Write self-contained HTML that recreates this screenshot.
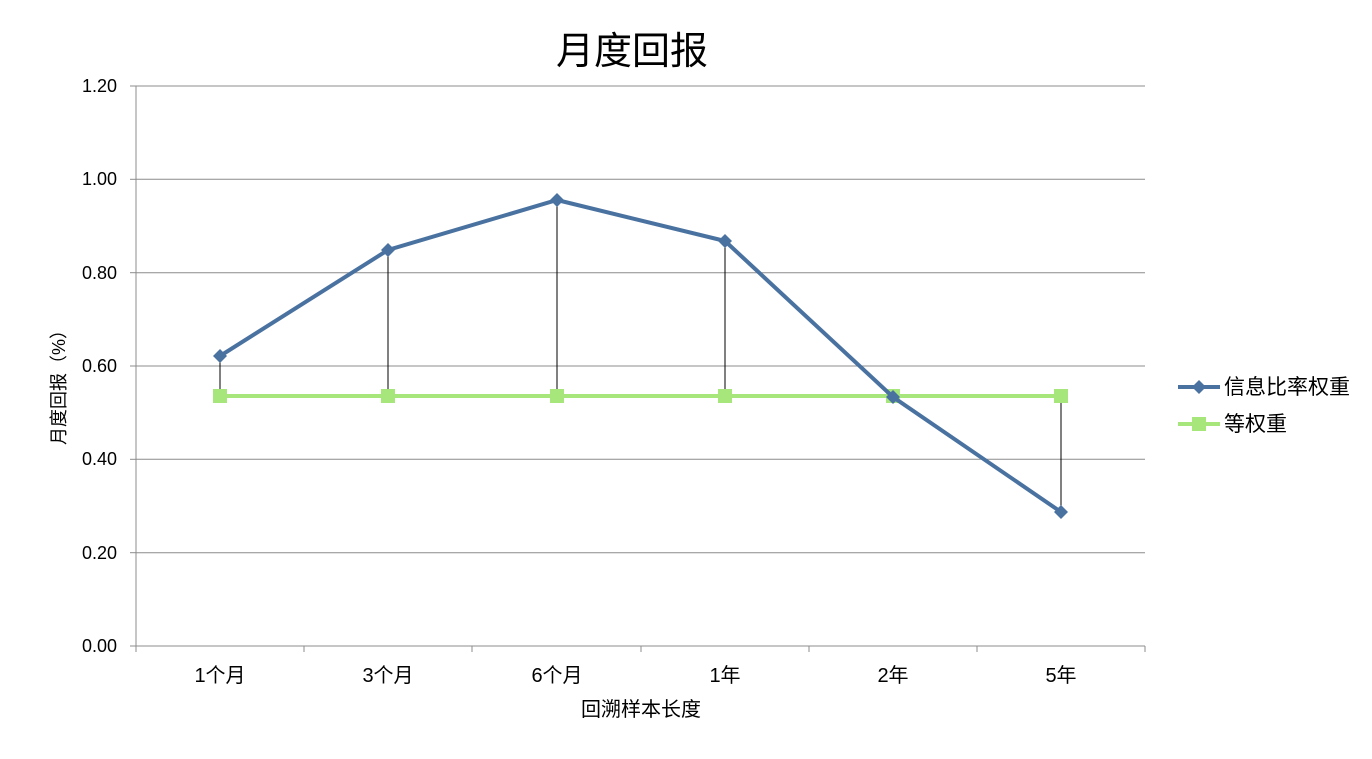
<!DOCTYPE html>
<html><head><meta charset="utf-8"><style>
body{margin:0;background:#fff;}
svg text{font-family:"Liberation Sans","Noto Sans CJK SC",sans-serif;fill:#000;}
</style></head><body>
<svg width="1372" height="754" viewBox="0 0 1372 754" xmlns="http://www.w3.org/2000/svg">
<rect width="1372" height="754" fill="#fff"/>
<text x="632" y="64" font-size="38" text-anchor="middle">月度回报</text>
<g stroke="#8c8c8c" stroke-width="1">
<line x1="136" y1="86" x2="1145" y2="86"/>
<line x1="136" y1="179.3" x2="1145" y2="179.3"/>
<line x1="136" y1="272.7" x2="1145" y2="272.7"/>
<line x1="136" y1="366" x2="1145" y2="366"/>
<line x1="136" y1="459.3" x2="1145" y2="459.3"/>
<line x1="136" y1="552.7" x2="1145" y2="552.7"/>
<line x1="136" y1="646" x2="1145" y2="646"/>
<line x1="136" y1="86" x2="136" y2="646"/>
<line x1="130" y1="86" x2="136" y2="86"/><line x1="130" y1="179.3" x2="136" y2="179.3"/>
<line x1="130" y1="272.7" x2="136" y2="272.7"/><line x1="130" y1="366" x2="136" y2="366"/>
<line x1="130" y1="459.3" x2="136" y2="459.3"/><line x1="130" y1="552.7" x2="136" y2="552.7"/>
<line x1="130" y1="646" x2="136" y2="646"/>
<line x1="136" y1="646" x2="136" y2="652"/><line x1="304" y1="646" x2="304" y2="652"/>
<line x1="472" y1="646" x2="472" y2="652"/><line x1="641" y1="646" x2="641" y2="652"/>
<line x1="809" y1="646" x2="809" y2="652"/><line x1="977" y1="646" x2="977" y2="652"/>
<line x1="1145" y1="646" x2="1145" y2="652"/>
</g>
<g font-size="18" text-anchor="end">
<text x="117" y="92">1.20</text><text x="117" y="185">1.00</text><text x="117" y="279">0.80</text>
<text x="117" y="372">0.60</text><text x="117" y="465">0.40</text><text x="117" y="559">0.20</text>
<text x="117" y="652">0.00</text>
</g>
<g font-size="20" text-anchor="middle">
<text x="220" y="682">1个月</text><text x="388" y="682">3个月</text><text x="557" y="682">6个月</text>
<text x="725" y="682">1年</text><text x="893" y="682">2年</text><text x="1061" y="682">5年</text>
<text x="641" y="716">回溯样本长度</text>
</g>
<text transform="translate(65,383) rotate(-90)" font-size="18" text-anchor="middle">月度回报（%）</text>
<g stroke="#000" stroke-width="1">
<line x1="220" y1="356" x2="220" y2="396"/><line x1="388" y1="250" x2="388" y2="396"/>
<line x1="557" y1="200" x2="557" y2="396"/><line x1="725" y1="241" x2="725" y2="396"/>
<line x1="1061" y1="396" x2="1061" y2="512"/>
</g>
<polyline points="220,396 388,396 557,396 725,396 893,396 1061,396" fill="none" stroke="#a6e67a" stroke-width="4"/>
<g fill="#a6e67a">
<rect x="213" y="389" width="14" height="14"/><rect x="381" y="389" width="14" height="14"/>
<rect x="550" y="389" width="14" height="14"/><rect x="718" y="389" width="14" height="14"/>
<rect x="886" y="389" width="14" height="14"/><rect x="1054" y="389" width="14" height="14"/>
</g>
<polyline points="220,356 388,250 557,200 725,241 893,397 1061,512" fill="none" stroke="#4a72a0" stroke-width="4"/>
<g fill="#4a72a0">
<path d="M220,349l7,7l-7,7l-7,-7z"/><path d="M388,243l7,7l-7,7l-7,-7z"/>
<path d="M557,193l7,7l-7,7l-7,-7z"/><path d="M725,234l7,7l-7,7l-7,-7z"/>
<path d="M893,390l7,7l-7,7l-7,-7z"/><path d="M1061,505l7,7l-7,7l-7,-7z"/>
</g>
<line x1="1178" y1="387" x2="1220" y2="387" stroke="#4a72a0" stroke-width="4"/>
<path d="M1199,380l7,7l-7,7l-7,-7z" fill="#4a72a0"/>
<text x="1224" y="394" font-size="21">信息比率权重</text>
<line x1="1178" y1="424" x2="1220" y2="424" stroke="#a6e67a" stroke-width="4"/>
<rect x="1192" y="417" width="14" height="14" fill="#a6e67a"/>
<text x="1224" y="431" font-size="21">等权重</text>
</svg>
</body></html>
